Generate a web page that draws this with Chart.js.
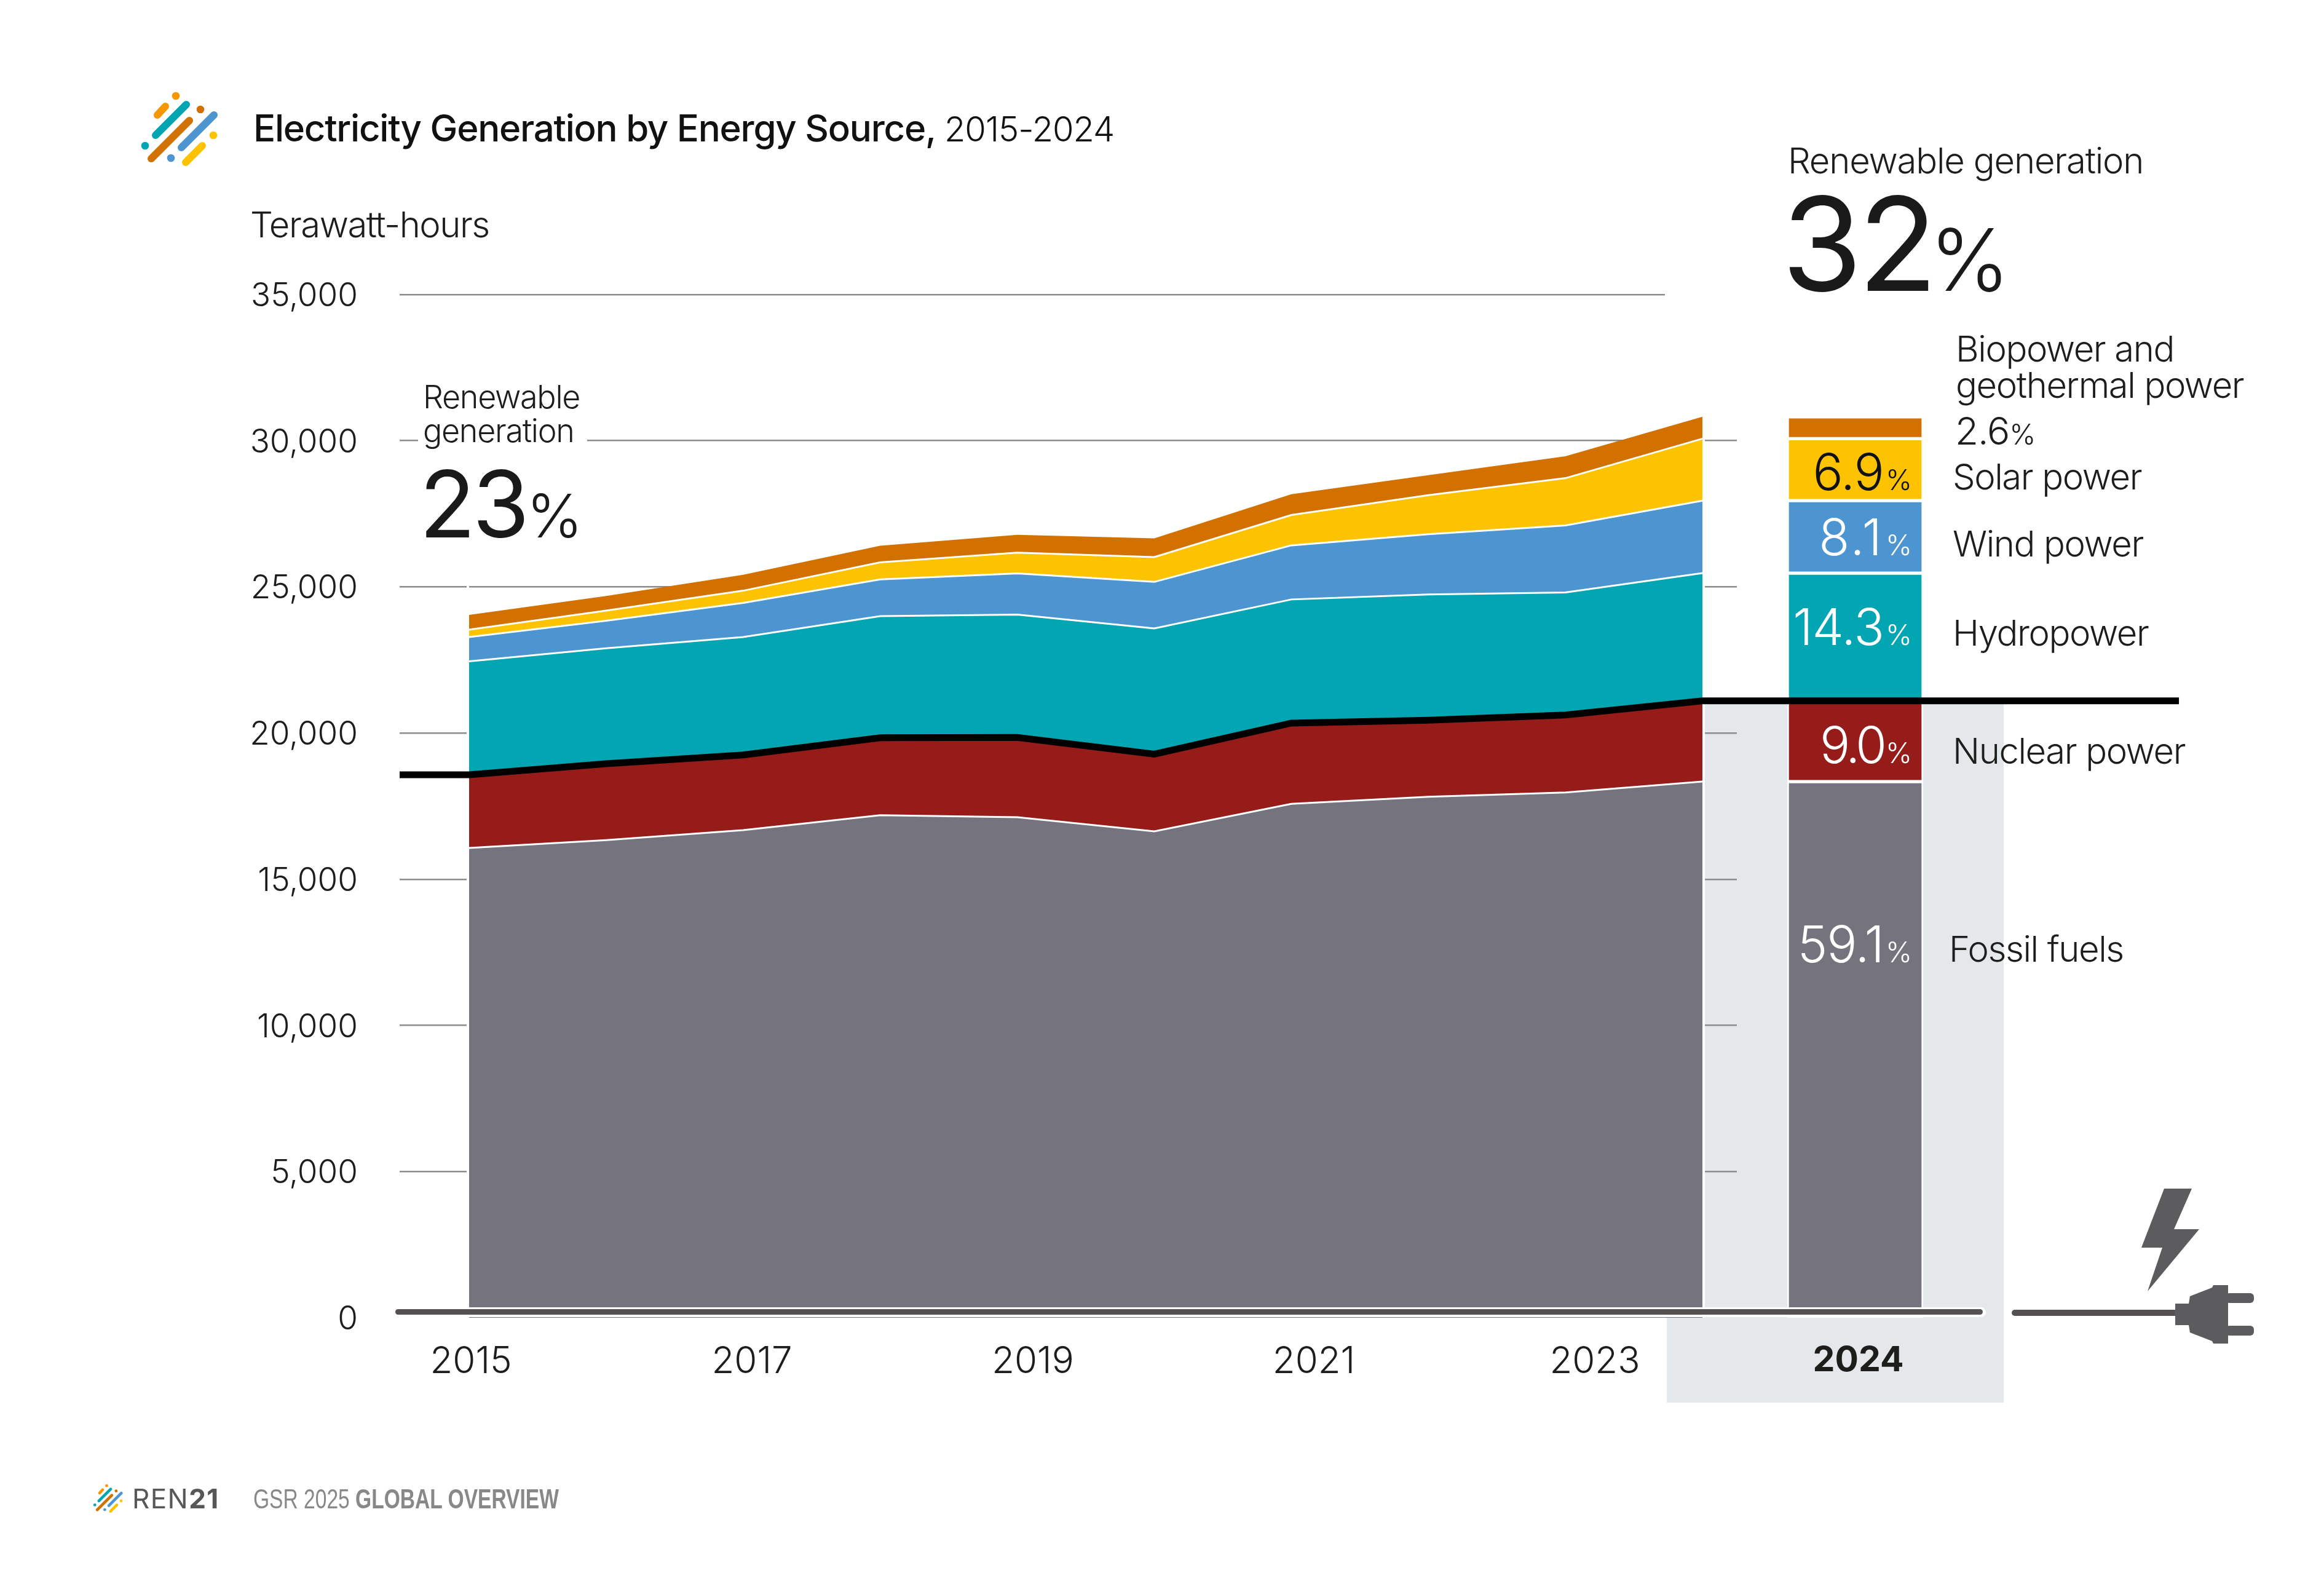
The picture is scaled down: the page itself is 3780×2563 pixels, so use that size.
<!DOCTYPE html>
<html>
<head>
<meta charset="utf-8">
<title>Electricity Generation by Energy Source, 2015-2024</title>
<script src="https://cdn.jsdelivr.net/npm/chart.js@4"></script>
<style>
html, body { margin: 0; padding: 0; background: #fff; }
#page { position: relative; width: 3780px; height: 2563px; overflow: hidden; font-family: Inter, sans-serif; font-weight: 300; color: #1d1d1b; }
#page canvas { position: absolute; left: 0; top: 0; }
#page div, #page svg { position: absolute; }
.t { white-space: nowrap; line-height: 1; }
.lab { font-size: 58px; letter-spacing: -1.4px; }
.val { font-size: 82px; text-align: right; width: 220px; left: 2890px; color: #fff; letter-spacing: -1px; }
.val span { font-size: 46px; letter-spacing: 0; margin-left: 3px; }
.pct { font-size: 46px; }
</style>
</head>
<body>
<div id="page">
  <!-- grey highlight behind 2024 -->
  <div style="left:2773px;top:1140px;width:486px;height:1002px;background:#e5e8eb"></div>
  <div style="left:2711px;top:2142px;width:548px;height:139px;background:#e5e8eb"></div>

  <canvas id="barChart" width="3780" height="2563"></canvas>
  <canvas id="areaChart" width="3780" height="2563"></canvas>

  <!-- x axis bar with white halo, the cord and plug -->
  <div style="left:640px;top:2126px;width:2590px;height:16px;background:#fff;border-radius:8px"></div>
  <div style="left:643px;top:2129px;width:2582px;height:9px;background:#555152;border-radius:5px"></div>
  <svg style="left:3260px;top:1920px" width="420" height="280" viewBox="3260 1920 420 280">
    <polygon fill="#5c5c5e" points="3520,1933 3565,1933 3536,1999 3577,1999 3493,2100 3517,2029 3483,2029"/>
    <rect x="3272" y="2130" width="270" height="10" rx="5" fill="#555152"/>
    <rect x="3538" y="2120" width="24" height="35" fill="#5c5c5e"/>
    <polygon fill="#5c5c5e" points="3560,2120 3562,2108 3598,2094 3600,2090 3624,2090 3624,2185 3600,2185 3598,2181 3562,2167 3560,2155"/>
    <rect x="3620" y="2103" width="46" height="16" rx="6" fill="#5c5c5e"/>
    <rect x="3620" y="2156" width="46" height="16" rx="6" fill="#5c5c5e"/>
  </svg>

  <!-- logo -->
  <svg style="left:220px;top:140px" width="150" height="140" viewBox="220 140 150 140">
    <g id="mark" stroke-linecap="round" stroke-width="12" fill="none">
      <line x1="256" y1="187" x2="269" y2="173" stroke="#f59700"/>
      <line x1="253" y1="220" x2="303" y2="170" stroke="#02a5b2"/>
      <line x1="246" y1="258" x2="308" y2="196" stroke="#d27000"/>
      <line x1="295" y1="240" x2="348" y2="187" stroke="#4c95d0"/>
      <line x1="302" y1="264" x2="329" y2="237" stroke="#fdc300"/>
      <circle cx="286" cy="156" r="6.3" fill="#f59700"/>
      <circle cx="326" cy="178" r="6.3" fill="#d27000"/>
      <circle cx="347" cy="220" r="6.3" fill="#fdc300"/>
      <circle cx="236" cy="237" r="6.3" fill="#02a5b2"/>
      <circle cx="278" cy="257" r="6.3" fill="#4c95d0"/>
    </g>
  </svg>
  <div class="t" style="left:412px;top:178px;font-size:60px;font-weight:500;letter-spacing:-1.25px;color:#111">Electricity Generation by Energy Source, <span style="font-weight:300;font-size:56px;letter-spacing:-1px">2015-2024</span></div>
  <div class="t" style="left:407px;top:336px;font-size:58px;letter-spacing:-1.5px">Terawatt-hours</div>

  <!-- 2015 callout, white box cuts the 30,000 line -->
  <div class="t" style="left:680px;top:620px;width:275px;height:110px;background:#fff"></div>
  <div class="t" style="left:688px;top:618px;font-size:52px;line-height:55px;letter-spacing:-1.3px">Renewable<br>generation</div>
  <div class="t" style="left:682px;top:745px;font-size:150px;font-weight:400;letter-spacing:-5px;color:#1a1a1a">23<span style="font-size:98px;font-weight:300">%</span></div>

  <!-- 2024 callout, white box cuts the 35,000 line -->
  <div style="left:2708px;top:470px;width:125px;height:18px;background:#fff"></div>
  <div class="t" style="left:2908px;top:232px;font-size:58px;letter-spacing:-1.2px">Renewable generation</div>
  <div class="t" style="left:2898px;top:290px;font-size:212px;font-weight:400;letter-spacing:-7px;color:#1a1a1a">32<span style="font-size:140px;font-weight:300;letter-spacing:0;margin-left:-6px">%</span></div>

  <!-- share labels -->
  <div class="t val" style="top:727px;color:#111">6.9<span>%</span></div>
  <div class="t val" style="top:833px;letter-spacing:3px">8.1<span>%</span></div>
  <div class="t val" style="top:979px">14.3<span>%</span></div>
  <div class="t val" style="top:1171px;letter-spacing:-5px">9.0<span>%</span></div>
  <div class="t val" style="top:1495px">59.1<span>%</span></div>

  <div class="t lab" style="left:3181px;top:538px;line-height:59px">Biopower and<br>geothermal power</div>
  <div class="t" style="left:3180px;top:670px;font-size:62px;letter-spacing:-1px">2.6<span class="pct">%</span></div>
  <div class="t lab" style="left:3176px;top:746px">Solar power</div>
  <div class="t lab" style="left:3176px;top:855px">Wind power</div>
  <div class="t lab" style="left:3176px;top:1000px">Hydropower</div>
  <div class="t lab" style="left:3176px;top:1192px">Nuclear power</div>
  <div class="t lab" style="left:3170px;top:1514px">Fossil fuels</div>

  <!-- footer -->
  <svg style="left:150px;top:2412px" width="52" height="50" viewBox="225 145 135 130">
    <use href="#mark"/>
  </svg>
  <div class="t" style="left:215px;top:2415px;font-size:44px;font-weight:400;color:#575756;letter-spacing:1.4px">REN<b style="font-weight:700">21</b></div>
  <div class="t" style="left:412px;top:2416px;font-size:44px;font-family:'Liberation Sans',sans-serif;font-weight:400;color:#888;transform:scaleX(0.763);transform-origin:left center">GSR 2025 <b>GLOBAL OVERVIEW</b></div>
</div>

<script>
// TWh
const years = [2015, 2016, 2017, 2018, 2019, 2020, 2021, 2022, 2023, 2024];
const fossil = [16070, 16340, 16680, 17190, 17120, 16640, 17580, 17820, 17970, 18340];
const nuclear = [2504, 2610, 2570, 2650, 2730, 2640, 2760, 2620, 2650, 2760];
const hydro = [3881, 3950, 4036, 4160, 4200, 4300, 4230, 4300, 4190, 4370];
const wind = [831, 940, 1164, 1254, 1410, 1590, 1850, 2060, 2290, 2480];
const solar = [252, 350, 420, 586, 710, 850, 1040, 1340, 1620, 2120];
const bio = [505, 500, 545, 570, 610, 640, 710, 680, 750, 750];
const yTicks = [0, 5000, 10000, 15000, 20000, 25000, 30000, 35000];
const xTickYears = [2015, 2017, 2019, 2021, 2023];
const barYear = ['2024'];

const inkColor = '#1d1d1b';

// x range of the plot, the grid lines overshoot the areas on both sides
const xMin = 2014.493, xMax = 2024.251;
const lineEnd = 2027.477;

function xy(values) {
  return values.map(function (v, i) { return { x: years[i], y: v }; });
}

function layer(label, values, color, line) {
  return {
    label: label,
    data: xy(values),
    stack: 'energy',
    fill: label === 'Fossil fuels' ? 'origin' : '-1',
    backgroundColor: color,
    borderColor: line ? '#fff' : color,
    borderWidth: line ? 3 : 0,
    pointRadius: 0,
    tension: 0
  };
}

// the black divider between non-renewable and renewable runs past both ends
const dividerValues = fossil.map(function (v, i) { return v + nuclear[i]; });
const dividerData = [{ x: xMin, y: dividerValues[0] }]
  .concat(xy(dividerValues))
  .concat([{ x: lineEnd, y: dividerValues[dividerValues.length - 1] }]);

// small white gaps where the grid lines meet the two ends of the areas
const edgeGaps = {
  id: 'edgeGaps',
  beforeDatasetsDraw: function (chart) {
    const c = chart.ctx, x = chart.scales.x, y = chart.scales.y;
    const base = y.getPixelForValue(0);
    const topLeft = y.getPixelForValue(26000), topRight = y.getPixelForValue(31000);
    c.save();
    c.fillStyle = '#fff';
    c.fillRect(x.getPixelForValue(2015) - 4, topLeft, 4, base - topLeft);
    c.fillRect(x.getPixelForValue(2024), topRight, 4, base - topRight);
    c.restore();
  }
};

const areaChart = new Chart(document.getElementById('areaChart'), {
  type: 'line',
  data: {
    datasets: [
      { label: 'Renewable divider', data: dividerData, stack: 'divider', fill: false, order: -1, clip: false,
        borderColor: '#000', borderWidth: 11, pointRadius: 0, tension: 0, borderJoinStyle: 'miter' },
      layer('Fossil fuels', fossil, '#75737d', true),
      layer('Nuclear power', nuclear, '#951c19', true),
      layer('Hydropower', hydro, '#02a5b2', true),
      layer('Wind power', wind, '#4c95d0', true),
      layer('Solar power', solar, '#fdc300', true),
      layer('Biopower and geothermal power', bio, '#d27000', false)
    ]
  },
  options: {
    responsive: false,
    animation: false,
    devicePixelRatio: 1,
    layout: { padding: { top: 479, right: 955, left: 0, bottom: 0 } },
    plugins: { legend: { display: false }, tooltip: { enabled: false } },
    scales: {
      x: { type: 'linear', min: xMin, max: xMax, display: false },
      // only carries the year labels, these sit a bit wider than the data
      xLabels: {
        type: 'linear', position: 'bottom', min: 2014.492, max: 2024.011,
        grid: { display: false }, border: { display: false },
        afterBuildTicks: function (s) { s.ticks = xTickYears.map(function (v) { return { value: v }; }); },
        afterFit: function (s) { s.height = 420; },
        ticks: { color: inkColor, font: { family: 'Inter', size: 60, weight: '300' }, padding: 28, maxRotation: 0, autoSkip: false,
          callback: function (v) { return String(v); } }
      },
      y: {
        stacked: true, min: 0, max: 35000,
        border: { display: false },
        grid: { color: function (ctx) { return ctx.tick.value === 0 ? 'rgba(0,0,0,0)' : '#8c8c8c'; }, lineWidth: 2.5, drawTicks: false },
        afterBuildTicks: function (s) { s.ticks = yTicks.map(function (v) { return { value: v }; }); },
        afterFit: function (s) { s.width = 650; },
        ticks: { color: inkColor, font: { family: 'Inter', size: 53, weight: '300' }, padding: 68, labelOffset: 3,
          callback: function (v) { return v.toLocaleString('en-US'); } }
      }
    }
  },
  plugins: [edgeGaps]
});

function barPart(label, values, color) {
  return { label: label, data: [values[values.length - 1]], backgroundColor: color,
    borderColor: '#fff', borderWidth: 3, borderSkipped: false,
    barPercentage: 1, categoryPercentage: 1 };
}

const barChart = new Chart(document.getElementById('barChart'), {
  type: 'bar',
  data: {
    labels: barYear,
    datasets: [
      barPart('Fossil fuels', fossil, '#75737d'),
      barPart('Nuclear power', nuclear, '#951c19'),
      barPart('Hydropower', hydro, '#02a5b2'),
      barPart('Wind power', wind, '#4c95d0'),
      barPart('Solar power', solar, '#fdc300'),
      barPart('Biopower and geothermal power', bio, '#d27000')
    ]
  },
  options: {
    responsive: false,
    animation: false,
    devicePixelRatio: 1,
    layout: { padding: { top: 479, left: 2907, right: 652, bottom: 0 } },
    plugins: { legend: { display: false }, tooltip: { enabled: false } },
    scales: {
      x: {
        stacked: true,
        grid: { display: false }, border: { display: false },
        afterFit: function (s) { s.height = 420; },
        ticks: { color: inkColor, font: { family: 'Inter', size: 57, weight: '700' }, padding: 28, labelOffset: 5 }
      },
      y: { stacked: true, min: 0, max: 35000, display: false }
    }
  }
});
</script>
</body>
</html>
